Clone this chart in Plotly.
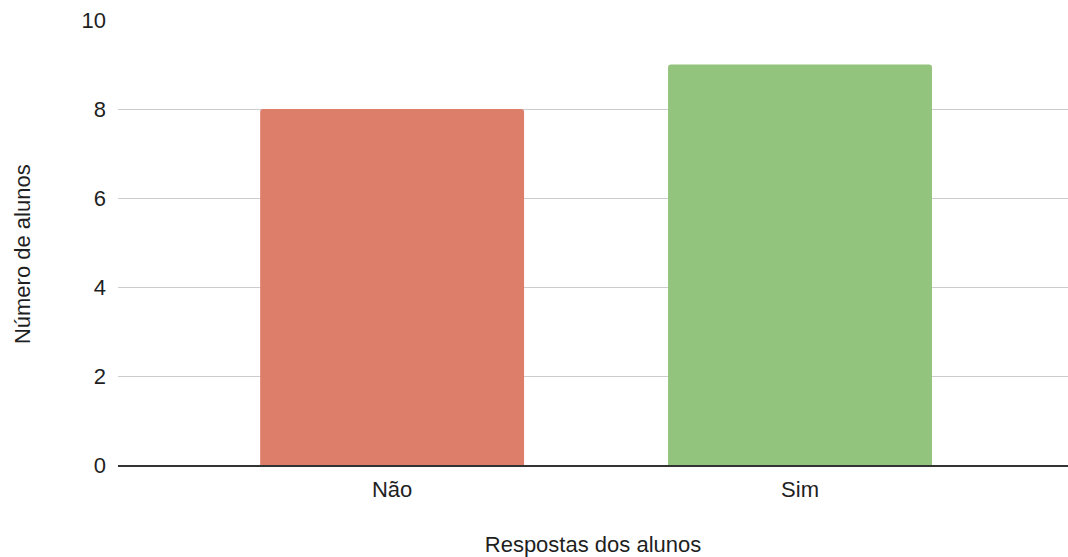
import plotly.graph_objects as go

# Survey answers and how many students gave each
respostas = ["Não", "Sim"]
alunos = [8, 9]
cores = ["#DD7E6B", "#93C47D"]
y_ticks = [0, 2, 4, 6, 8, 10]

FONT = "Liberation Sans, Arial, sans-serif"
TXT = "#1f1f1f"

fig = go.Figure(
    go.Bar(
        x=respostas,
        y=alunos,
        marker=dict(color=cores, line=dict(width=0), cornerradius=3),
        width=0.647,
        hoverinfo="x+y",
    )
)

fig.update_layout(
    width=1068,
    height=557,
    margin=dict(l=118, r=0, t=20, b=92),
    paper_bgcolor="white",
    plot_bgcolor="white",
    showlegend=False,
    font=dict(family=FONT, size=22, color=TXT),
)

fig.update_xaxes(
    type="category",
    range=[-0.672, 1.657],
    automargin=False,
    showgrid=False,
    showline=True,
    linecolor="#333333",
    linewidth=1.5,
    ticks="",
    ticklabelstandoff=4,
    tickfont=dict(size=22, color=TXT),
    title=dict(text="Respostas dos alunos", font=dict(size=22, color=TXT), standoff=35),
)

fig.update_yaxes(
    range=[0, 10],
    tickvals=y_ticks,
    automargin=False,
    showgrid=True,
    gridcolor="#CCCCCC",
    gridwidth=1,
    zeroline=False,
    showline=False,
    ticks="",
    ticklabelstandoff=11,
    tickfont=dict(size=22, color=TXT),
)

# Vertical axis title, placed slightly below the plot's middle
fig.add_annotation(
    text="Número de alunos",
    xref="paper", yref="paper",
    x=-0.101, y=0.474,
    xanchor="center", yanchor="middle",
    textangle=-90,
    showarrow=False,
    font=dict(size=22, color=TXT),
)

fig.write_html("out.html")
